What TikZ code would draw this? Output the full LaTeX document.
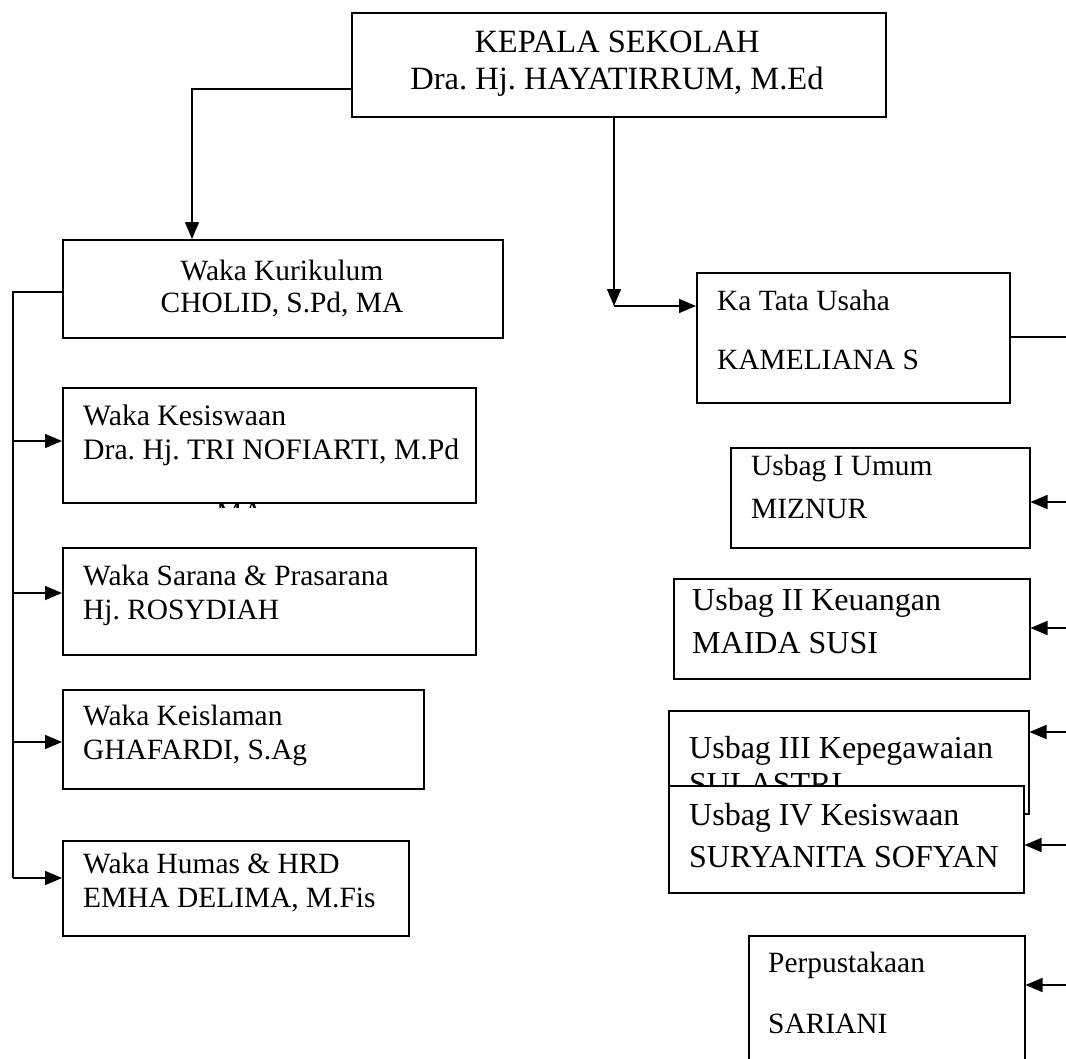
\documentclass[tikz,border=0pt]{standalone}
\usepackage{fontspec}
\setmainfont{Liberation Serif}
\usetikzlibrary{arrows.meta}
\frenchspacing
\newcommand\twoln[3]{\vtop{\baselineskip=#3pt\lineskip=0pt\lineskiplimit=-100pt\hbox{#1}\hbox{#2}}}
\newcommand\twolnc[3]{\vtop{\baselineskip=#3pt\lineskip=0pt\lineskiplimit=-100pt\halign{\hfil##\hfil\cr #1\cr #2\cr}}}
\begin{document}
\begin{tikzpicture}[x=1pt,y=-1pt,
  box/.style={draw, line width=1.5pt, inner sep=0pt, anchor=north west},
  arr/.style={line width=1.5pt, -{Triangle[length=17pt,width=14pt]}},
  ln/.style={line width=1.5pt},
  tA/.style={font=\fontsize{29.4}{34}\selectfont, inner sep=0pt, anchor=base west},
  tK/.style={font=\fontsize{29.7}{34}\selectfont, inner sep=0pt, anchor=base west},
  tB/.style={font=\fontsize{32}{36}\selectfont, inner sep=0pt, anchor=base west},
  tH/.style={font=\fontsize{32.5}{36}\selectfont, inner sep=0pt, anchor=base}]
\useasboundingbox (0,0) rectangle (1066,1058);

% Kepala Sekolah
\node[box, minimum width=534pt, minimum height=104pt] (kep) at (351,12) {};
\node[tH] (kept) at (617,52) {\twolnc{KEPALA SEKOLAH}{Dra. Hj. HAYATIRRUM, M.Ed}{37}};

% left column
\node[box, minimum width=440pt, minimum height=98pt] (kur) at (62,239) {};
\node[tA, anchor=base] (kurt) at (282,280) {\twolnc{Waka Kurikulum}{CHOLID, S.Pd, MA}{32}};

\begin{scope}
\clip (190,503.5) rectangle (300,507.5);
\node[tK, anchor=north] (ma) at (240,503) {MA};
\end{scope}
\node[box, minimum width=413pt, minimum height=115pt] (kes) at (62,387) {};
\node[tK] (kest) at (83,425) {\twoln{Waka Kesiswaan}{Dra. Hj. TRI NOFIARTI, M.Pd}{34}};

\node[box, minimum width=413pt, minimum height=107pt] (sar) at (62,547) {};
\node[tA] (sart) at (83,585) {\twoln{Waka Sarana \& Prasarana}{Hj. ROSYDIAH}{34}};

\node[box, minimum width=361pt, minimum height=99pt] (isl) at (62,689) {};
\node[tA] (islt) at (83,725) {\twoln{Waka Keislaman}{GHAFARDI, S.Ag}{34}};

\node[box, minimum width=346pt, minimum height=95pt] (hum) at (62,840) {};
\node[tA] (humt) at (83,873) {\twoln{Waka Humas \& HRD}{EMHA DELIMA, M.Fis}{34}};

% right column
\node[box, minimum width=313pt, minimum height=130pt] (ka) at (696,272) {};
\node[tA] (kat) at (717,310) {\twoln{Ka Tata Usaha}{KAMELIANA S}{59}};

\node[box, minimum width=299pt, minimum height=100pt] (u1) at (730,447) {};
\node[tA] (u1t) at (751,475) {\twoln{Usbag I Umum}{MIZNUR}{43}};

\node[box, minimum width=356pt, minimum height=100pt] (u2) at (673,578) {};
\node[tB] (u2t) at (692,610) {\twoln{Usbag II Keuangan}{MAIDA SUSI}{43}};

\node[box, minimum width=360pt, minimum height=103pt] (u3) at (668,710) {};
\node[tB] (u3t) at (689,758) {\twoln{Usbag III Kepegawaian}{SULASTRI}{36}};

\node[box, fill=white, minimum width=355pt, minimum height=107pt] (u4) at (668,785) {};
\node[tB] (u4t) at (689,825) {\twoln{Usbag IV Kesiswaan}{SURYANITA SOFYAN}{42}};

\node[box, minimum width=276pt, minimum height=140pt] (per) at (748,935) {};
\node[tA] (pert) at (768,972) {\twoln{Perpustakaan}{SARIANI}{61}};

% connectors from Kepala
\coordinate (c1) at (192,89);
\draw[arr] (c1 -| kep.west) -- (c1) -- (c1 |- kur.north);
\coordinate (c2) at (614,306);
\draw[arr] (c2 |- kep.south) -- (c2);
\draw[arr] (c2) -- (c2 -| ka.west);

% left trunk
\coordinate (L0) at (13,292);
\coordinate (L1) at (13,441);
\coordinate (L2) at (13,593);
\coordinate (L3) at (13,742);
\coordinate (L4) at (13,878);
\draw[ln] (L0 -| kur.west) -- (L0) -- (L4);
\draw[arr] (L1) -- (L1 -| kes.west);
\draw[arr] (L2) -- (L2 -| sar.west);
\draw[arr] (L3) -- (L3 -| isl.west);
\draw[arr] (L4) -- (L4 -| hum.west);

% right side
\coordinate (R0) at (1066,337);
\draw[ln] (R0 -| ka.east) -- (R0);
\coordinate (R1) at (1066,502);
\coordinate (R2) at (1066,628);
\coordinate (R3) at (1066,732);
\coordinate (R4) at (1066,845);
\coordinate (R5) at (1066,985);
\draw[arr] (R1) -- (R1 -| u1.east);
\draw[arr] (R2) -- (R2 -| u2.east);
\draw[arr] (R3) -- (R3 -| u3.east);
\draw[arr] (R4) -- (R4 -| u4.east);
\draw[arr] (R5) -- (R5 -| per.east);
\end{tikzpicture}
\end{document}
